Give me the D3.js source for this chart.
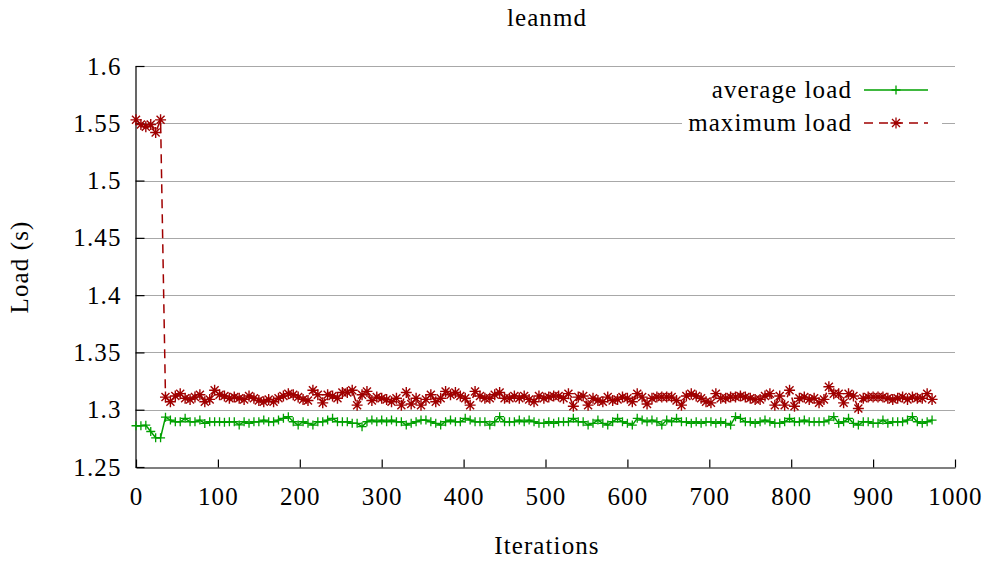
<!DOCTYPE html>
<html><head><meta charset="utf-8">
<script src="https://cdn.jsdelivr.net/npm/d3@7"></script>
<style>
body{margin:0;background:#fff}
svg{display:block}
text{font-family:"Liberation Serif","Times New Roman",serif;fill:#000;letter-spacing:1.1px}
</style>
</head><body>
<svg id="c" width="990" height="561"></svg>
<script>
const chartTitle = "leanmd";
const xLabel = "Iterations";
const yLabel = "Load (s)";
const seriesNames = ["average load", "maximum load"];

const iterations = [
0,6,12,18,24,30,36,42,48,54,
60,66,72,78,84,90,96,102,108,114,
120,126,132,138,144,150,156,162,168,174,
180,186,192,198,204,210,216,222,228,234,
240,246,252,258,264,270,276,282,288,294,
300,306,312,318,324,330,336,342,348,354,
360,366,372,378,384,390,396,402,408,414,
420,426,432,438,444,450,456,462,468,474,
480,486,492,498,504,510,516,522,528,534,
540,546,552,558,564,570,576,582,588,594,
600,606,612,618,624,630,636,642,648,654,
660,666,672,678,684,690,696,702,708,714,
720,726,732,738,744,750,756,762,768,774,
780,786,792,798,804,810,816,822,828,834,
840,846,852,858,864,870,876,882,888,894,
900,906,912,918,924,930,936,942,948,954,
960,966,972];

const averageLoad = [
1.286,1.286,1.2865,1.281,1.2755,1.2755,1.2935,1.291,1.2895,1.2895,
1.2925,1.2895,1.2895,1.291,1.288,1.2895,1.2895,1.2895,1.289,1.2895,
1.2895,1.2867,1.2895,1.2881,1.2895,1.2895,1.291,1.2895,1.2895,1.291,
1.2925,1.2939,1.2895,1.2866,1.2895,1.2881,1.2866,1.2895,1.2895,1.291,
1.2925,1.2895,1.2895,1.2895,1.2881,1.2881,1.2852,1.2895,1.291,1.2895,
1.291,1.2895,1.291,1.2895,1.2895,1.2866,1.2881,1.2895,1.291,1.291,
1.2895,1.2881,1.2866,1.2895,1.291,1.2895,1.2895,1.2925,1.291,1.2895,
1.2895,1.2895,1.2866,1.2895,1.2939,1.2895,1.2895,1.2895,1.291,1.2895,
1.291,1.2895,1.2881,1.2881,1.2895,1.2881,1.2895,1.2895,1.2895,1.2925,
1.2895,1.2895,1.2866,1.2881,1.291,1.2881,1.2866,1.2895,1.2925,1.2895,
1.2881,1.2866,1.2925,1.291,1.2895,1.291,1.2895,1.2866,1.291,1.2895,
1.2925,1.2895,1.2895,1.2881,1.2895,1.2881,1.2895,1.2895,1.2881,1.2895,
1.2881,1.2866,1.2939,1.2925,1.2895,1.2895,1.2881,1.2895,1.291,1.2895,
1.2881,1.2881,1.2895,1.2925,1.2895,1.2895,1.291,1.2895,1.2895,1.2895,
1.2895,1.291,1.2939,1.2881,1.2895,1.2925,1.2881,1.2866,1.2895,1.2895,
1.2881,1.2881,1.291,1.2881,1.2895,1.2895,1.2895,1.291,1.2939,1.2895,
1.2881,1.2895,1.291];

const maximumLoad = [
1.553,1.549,1.547,1.549,1.542,1.553,1.311,1.307,1.312,1.314,
1.310,1.309,1.311,1.313,1.307,1.309,1.317,1.313,1.312,1.310,
1.311,1.310,1.309,1.312,1.310,1.308,1.307,1.309,1.307,1.310,
1.312,1.314,1.313,1.311,1.309,1.308,1.317,1.313,1.306,1.313,
1.312,1.310,1.315,1.315,1.317,1.304,1.313,1.316,1.308,1.311,
1.310,1.309,1.307,1.310,1.304,1.315,1.305,1.310,1.304,1.309,
1.313,1.307,1.310,1.316,1.313,1.315,1.312,1.310,1.304,1.316,
1.312,1.310,1.310,1.313,1.315,1.310,1.310,1.312,1.310,1.312,
1.309,1.307,1.312,1.310,1.311,1.312,1.312,1.310,1.314,1.303,
1.311,1.312,1.304,1.310,1.308,1.307,1.311,1.308,1.309,1.311,
1.310,1.307,1.314,1.311,1.305,1.310,1.311,1.311,1.311,1.311,
1.308,1.304,1.312,1.314,1.312,1.310,1.307,1.306,1.314,1.310,
1.310,1.311,1.311,1.312,1.311,1.310,1.309,1.309,1.312,1.314,
1.304,1.312,1.304,1.317,1.303,1.310,1.311,1.309,1.310,1.306,
1.309,1.320,1.314,1.314,1.306,1.314,1.312,1.301,1.310,1.311,
1.311,1.311,1.311,1.310,1.309,1.310,1.311,1.309,1.311,1.310,
1.310,1.314,1.309];

const xTicks = [0,100,200,300,400,500,600,700,800,900,1000];
const yTicks = [1.25,1.3,1.35,1.4,1.45,1.5,1.55,1.6];
const yTickLabels = ["1.25","1.3","1.35","1.4","1.45","1.5","1.55","1.6"];

const svg = d3.select("#c");
const x = d3.scaleLinear().domain([0,1000]).range([136,955]);
const y = d3.scaleLinear().domain([1.25,1.6]).range([467,66]);
const GREEN = "#00a000", RED = "#a00000", FS = 25;

// grid
svg.append("g").selectAll("line").data(yTicks.slice(1)).join("line")
  .attr("x1", x(0)).attr("x2", x(1000))
  .attr("y1", d => Math.round(y(d)) + 0.5).attr("y2", d => Math.round(y(d)) + 0.5)
  .attr("stroke", "#a8a8a8").attr("stroke-width", 1);

// axes
const yAxis = d3.axisLeft(y).tickValues(yTicks)
  .tickFormat((d,i) => yTickLabels[i]).tickSizeInner(-9).tickSizeOuter(0).tickPadding(14);
const gy = svg.append("g").attr("transform", `translate(${x(0)-0.5},0)`).call(yAxis);
const xAxis = d3.axisBottom(x).tickValues(xTicks)
  .tickFormat(d3.format("d")).tickSizeInner(-8).tickSizeOuter(0).tickPadding(20);
const gx = svg.append("g").attr("transform", `translate(0,${y(1.25)+0.5})`).call(xAxis);
[gx, gy].forEach(g => {
  g.selectAll("text").attr("font-size", FS).attr("font-family", '"Liberation Serif", serif').attr("fill", "#000");
  g.selectAll("line,path").attr("stroke", "#000").attr("stroke-width", 1.2);
});

// legend background
svg.append("rect").attr("x", 682).attr("y", 74).attr("width", 260).attr("height", 64).attr("fill", "#fff");

// series
const line = d3.line().x(d => x(d[0])).y(d => y(d[1]));
const avgData = iterations.map((t,i) => [t, averageLoad[i]]);
const maxData = iterations.map((t,i) => [t, maximumLoad[i]]);
const plusPath = "M-4.5,0H4.5M0,-4.5V4.5";
const starPath = "M-5.5,0H5.5M0,-5.5V5.5M-4,-4L4,4M-4,4L4,-4";

svg.append("path").datum(avgData).attr("d", line).attr("fill", "none")
  .attr("stroke", GREEN).attr("stroke-width", 1.5);
svg.append("g").selectAll("path").data(avgData).join("path")
  .attr("transform", d => `translate(${x(d[0])},${y(d[1])})`)
  .attr("d", plusPath).attr("stroke", GREEN).attr("stroke-width", 1.3).attr("fill", "none");

svg.append("path").datum(maxData).attr("d", line).attr("fill", "none")
  .attr("stroke", RED).attr("stroke-width", 1.5).attr("stroke-dasharray", "9,6");
svg.append("g").selectAll("path").data(maxData).join("path")
  .attr("transform", d => `translate(${x(d[0])},${y(d[1])})`)
  .attr("d", starPath).attr("stroke", RED).attr("stroke-width", 1.4).attr("fill", "none");

// legend
const legendRows = [
  {name: seriesNames[0], color: GREEN, dash: null, marker: plusPath, y: 90},
  {name: seriesNames[1], color: RED, dash: "9,6", marker: starPath, y: 123}
];
legendRows.forEach(r => {
  svg.append("text").attr("x", 852).attr("y", r.y).attr("dy", "0.32em")
    .attr("text-anchor", "end").attr("font-size", FS).text(r.name);
  svg.append("line").attr("x1", 864).attr("x2", 928).attr("y1", r.y).attr("y2", r.y)
    .attr("stroke", r.color).attr("stroke-width", 1.5).attr("stroke-dasharray", r.dash);
  svg.append("path").attr("transform", `translate(896,${r.y})`).attr("d", r.marker)
    .attr("stroke", r.color).attr("stroke-width", 1.3).attr("fill", "none");
});

// titles
svg.append("text").attr("x", 547).attr("y", 26).attr("text-anchor", "middle").attr("font-size", FS).text(chartTitle);
svg.append("text").attr("x", 547).attr("y", 554).attr("text-anchor", "middle").attr("font-size", FS).text(xLabel);
svg.append("text").attr("transform", "translate(28,267) rotate(-90)").attr("text-anchor", "middle").attr("font-size", FS).text(yLabel);
</script>
</body></html>
